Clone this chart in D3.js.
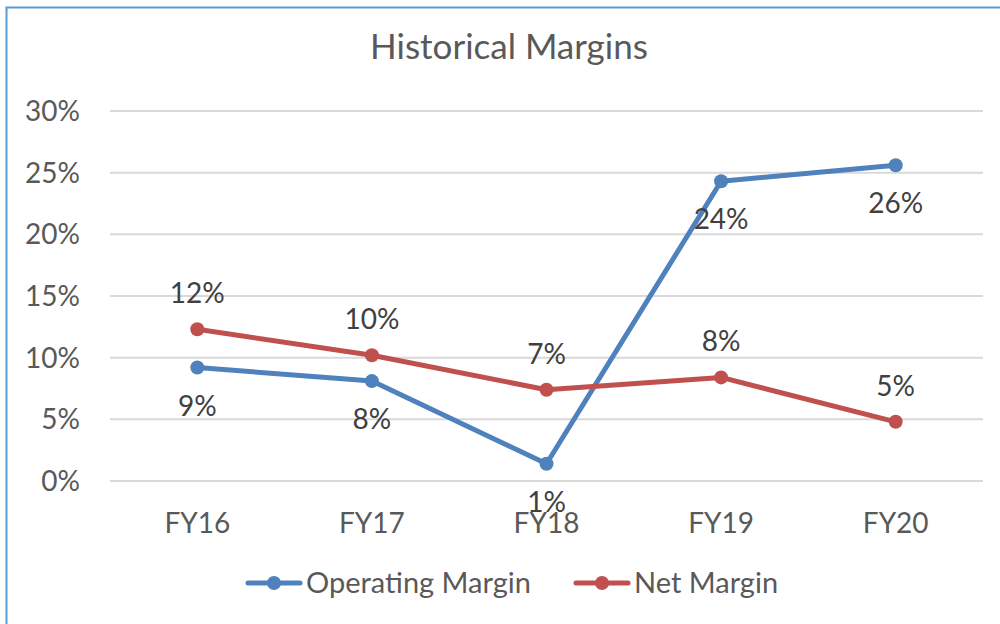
<!DOCTYPE html>
<html>
<head>
<meta charset="utf-8">
<script src="https://cdn.jsdelivr.net/npm/d3@7"></script>
<style>
body { margin: 0; background: #fff; }
text { font-family: Lato, "Open Sans", sans-serif; }
</style>
</head>
<body>
<div id="chart"></div>
<script>
width = 1000
height = 624

let categories = ["FY16", "FY17", "FY18", "FY19", "FY20"]
let operatingMargin = [0.092, 0.081, 0.014, 0.243, 0.256]
let netMargin = [0.123, 0.102, 0.074, 0.084, 0.048]
let yTicks = [0, 0.05, 0.10, 0.15, 0.20, 0.25, 0.30]

let series = [
	{name: "Operating Margin", values: operatingMargin, color: "#4f81bd", labelDy: 38},
	{name: "Net Margin", values: netMargin, color: "#c0504d", labelDy: -36}
]

let svg = d3.select("#chart")
.append("svg")
.attr("width", width)
.attr("height", height)

// chart frame
svg.append("rect")
.attr("x", 6.5)
.attr("y", 7.5)
.attr("width", 1010)
.attr("height", 640)
.attr("fill", "#fff")
.attr("stroke", "#5b9bd5")
.attr("stroke-width", 2)

let x = d3.scaleBand()
.domain(categories)
.range([110, 983])

let y = d3.scaleLinear()
.domain([0, 0.30])
.range([481, 111])

// gridlines
svg.append("g")
.selectAll("line")
.data(yTicks)
.join("line")
.attr("x1", 110)
.attr("x2", 983)
.attr("y1", d => y(d))
.attr("y2", d => y(d))
.attr("stroke", "#d9d9d9")
.attr("stroke-width", 2)

// y axis labels
svg.append("g")
.selectAll("text")
.data(yTicks)
.join("text")
.attr("x", 80)
.attr("y", d => y(d))
.attr("dy", "0.36em")
.attr("text-anchor", "end")
.attr("font-size", 28)
.attr("fill", "#595959")
.text(d => d3.format(".0%")(d))

// x axis labels
svg.append("g")
.selectAll("text")
.data(categories)
.join("text")
.attr("x", d => x(d) + x.bandwidth() / 2)
.attr("y", 523)
.attr("dy", "0.36em")
.attr("text-anchor", "middle")
.attr("font-size", 28)
.attr("fill", "#595959")
.text(d => d)

// title
svg.append("text")
.attr("x", 509)
.attr("y", 46)
.attr("dy", "0.36em")
.attr("text-anchor", "middle")
.attr("font-size", 35)
.attr("fill", "#595959")
.text("Historical Margins")

let line = d3.line()
.x((d, i) => x(categories[i]) + x.bandwidth() / 2)
.y(d => y(d))

series.forEach(s => {
	let g = svg.append("g")
	g.append("path")
	.datum(s.values)
	.attr("d", line)
	.attr("fill", "none")
	.attr("stroke", s.color)
	.attr("stroke-width", 5)
	.attr("stroke-linejoin", "round")
	.attr("stroke-linecap", "round")

	g.selectAll("circle")
	.data(s.values)
	.join("circle")
	.attr("cx", (d, i) => x(categories[i]) + x.bandwidth() / 2)
	.attr("cy", d => y(d))
	.attr("r", 7)
	.attr("fill", s.color)
})

// data labels drawn after the lines so they sit on top
series.forEach(s => {
	svg.append("g")
	.selectAll("text")
	.data(s.values)
	.join("text")
	.attr("x", (d, i) => x(categories[i]) + x.bandwidth() / 2)
	.attr("y", d => y(d) + s.labelDy)
	.attr("dy", "0.36em")
	.attr("text-anchor", "middle")
	.attr("font-size", 28)
	.attr("fill", "#404040")
	.text(d => d3.format(".0%")(d))
})

// legend
let legend = svg.append("g")
let legendX = [248, 576]
series.forEach((s, i) => {
	let row = legend.append("g")
	.attr("transform", "translate(" + legendX[i] + ",583)")
	row.append("line")
	.attr("x1", 0)
	.attr("x2", 52)
	.attr("stroke", s.color)
	.attr("stroke-width", 5)
	.attr("stroke-linecap", "round")
	row.append("circle")
	.attr("cx", 26)
	.attr("r", 7)
	.attr("fill", s.color)
	row.append("text")
	.attr("x", 58)
	.attr("dy", "0.36em")
	.attr("font-size", 29)
	.attr("fill", "#595959")
	.text(s.name)
})
</script>
</body>
</html>
